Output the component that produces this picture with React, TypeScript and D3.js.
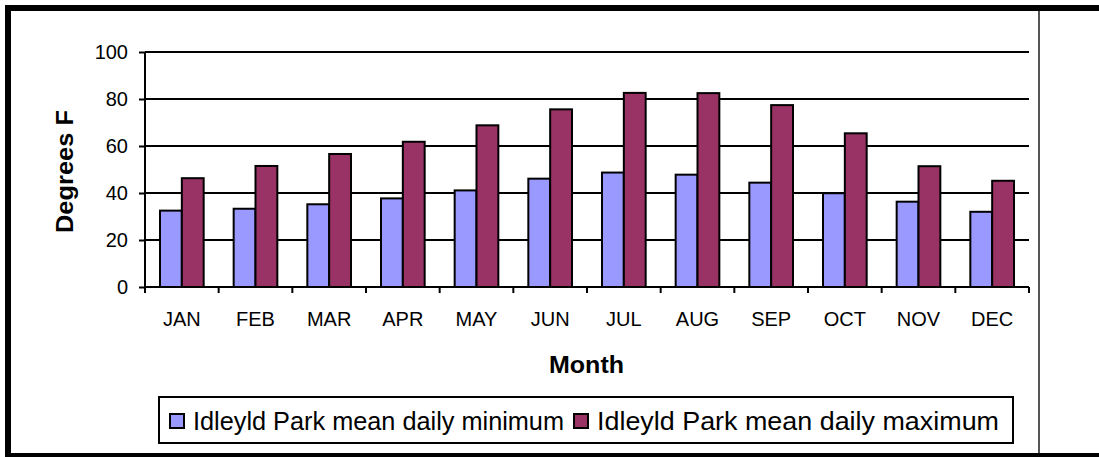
import React, { useEffect, useRef } from 'react';
import * as d3 from 'd3';

const months = ['JAN', 'FEB', 'MAR', 'APR', 'MAY', 'JUN', 'JUL', 'AUG', 'SEP', 'OCT', 'NOV', 'DEC'];
const minTemps = [32.5, 33.3, 35.2, 37.7, 41.1, 46.1, 48.7, 47.8, 44.4, 39.9, 36.3, 32.0];
const maxTemps = [46.3, 51.5, 56.6, 61.8, 68.8, 75.6, 82.6, 82.5, 77.4, 65.4, 51.4, 45.2];
const yTicks = [0, 20, 40, 60, 80, 100];
const seriesNames = ['Idleyld Park mean daily minimum', 'Idleyld Park mean daily maximum'];
const colors = ['#9999ff', '#993366'];

export default function App() {
  const ref = useRef<SVGSVGElement | null>(null);

  useEffect(() => {
    const svg = d3.select(ref.current);
    svg.selectAll('*').remove();

    const font = "'Liberation Sans', Arial, sans-serif";
    const left = 145, right = 1029, top = 52, bottom = 287;

    // outer frame
    svg.append('rect')
      .attr('x', 8).attr('y', 8)
      .attr('width', 1096).attr('height', 448)
      .attr('fill', 'white').attr('stroke', 'black').attr('stroke-width', 6);

    svg.append('line')
      .attr('x1', 1039).attr('x2', 1039).attr('y1', 11).attr('y2', 453)
      .attr('stroke', '#555').attr('stroke-width', 2);

    const x = d3.scaleBand().domain(months).range([left, right]);
    const inner = d3.scaleBand().domain(['min', 'max']).range([15, x.bandwidth() - 15]);
    const y = d3.scaleLinear().domain([0, 100]).range([bottom, top]);

    const g = svg.append('g');

    // gridlines
    g.selectAll('.grid')
      .data(yTicks.filter(d => d > 0))
      .enter().append('line')
      .attr('x1', left).attr('x2', right)
      .attr('y1', d => y(d)).attr('y2', d => y(d))
      .attr('stroke', 'black').attr('stroke-width', 2);

    // y axis
    const yAxis = g.append('g')
      .attr('transform', `translate(${left},0)`)
      .call(d3.axisLeft(y).tickValues(yTicks).tickSize(6).tickPadding(11));
    yAxis.select('.domain').attr('stroke-width', 2).attr('d', `M0,${top}V${bottom}`);
    yAxis.selectAll('.tick line').attr('stroke-width', 2);
    yAxis.selectAll('text')
      .attr('font-family', font).attr('font-size', '20px').attr('fill', 'black');

    // bars
    const rows = months.map((m, i) => ({ m, min: minTemps[i], max: maxTemps[i] }));
    (['min', 'max'] as const).forEach((key, k) => {
      g.selectAll(`.bar-${key}`)
        .data(rows)
        .enter().append('rect')
        .attr('x', d => (x(d.m) as number) + (inner(key) as number))
        .attr('y', d => y(d[key]))
        .attr('width', inner.bandwidth())
        .attr('height', d => y(0) - y(d[key]))
        .attr('fill', colors[k])
        .attr('stroke', 'black').attr('stroke-width', 2);
    });

    // x axis
    g.append('line')
      .attr('x1', left).attr('x2', right).attr('y1', bottom).attr('y2', bottom)
      .attr('stroke', 'black').attr('stroke-width', 2);
    g.selectAll('.xtick')
      .data(months.concat(['end']))
      .enter().append('line')
      .attr('x1', (d, i) => left + i * x.step())
      .attr('x2', (d, i) => left + i * x.step())
      .attr('y1', bottom).attr('y2', bottom + 6)
      .attr('stroke', 'black').attr('stroke-width', 2);
    g.selectAll('.xlabel')
      .data(months)
      .enter().append('text')
      .attr('x', d => (x(d) as number) + x.bandwidth() / 2)
      .attr('y', 326)
      .attr('text-anchor', 'middle')
      .attr('font-family', font).attr('font-size', '20px')
      .text(d => d);

    // axis titles
    svg.append('text')
      .attr('x', 549).attr('y', 373)
      .attr('textLength', 75).attr('lengthAdjust', 'spacingAndGlyphs')
      .attr('font-family', font).attr('font-size', '24px').attr('font-weight', 'bold')
      .text('Month');

    svg.append('text')
      .attr('transform', 'translate(73,233) rotate(-90)')
      .attr('textLength', 123).attr('lengthAdjust', 'spacingAndGlyphs')
      .attr('font-family', font).attr('font-size', '24px').attr('font-weight', 'bold')
      .text('Degrees F');

    // legend
    const legend = svg.append('g');
    legend.append('rect')
      .attr('x', 159).attr('y', 397).attr('width', 854).attr('height', 46)
      .attr('fill', 'white').attr('stroke', 'black').attr('stroke-width', 2);
    const itemX = [170, 574];
    const textLen = [371, 402];
    seriesNames.forEach((name, i) => {
      legend.append('rect')
        .attr('x', itemX[i]).attr('y', 414).attr('width', 14).attr('height', 14)
        .attr('fill', colors[i]).attr('stroke', 'black').attr('stroke-width', 2);
      legend.append('text')
        .attr('x', itemX[i] + 23).attr('y', 430)
        .attr('textLength', textLen[i]).attr('lengthAdjust', 'spacingAndGlyphs')
        .attr('font-family', font).attr('font-size', '25px')
        .text(name);
    });
  }, []);

  return (
    <svg ref={ref} width={1099} height={457}
      style={{ position: 'absolute', left: 0, top: 0, display: 'block' }} />
  );
}
